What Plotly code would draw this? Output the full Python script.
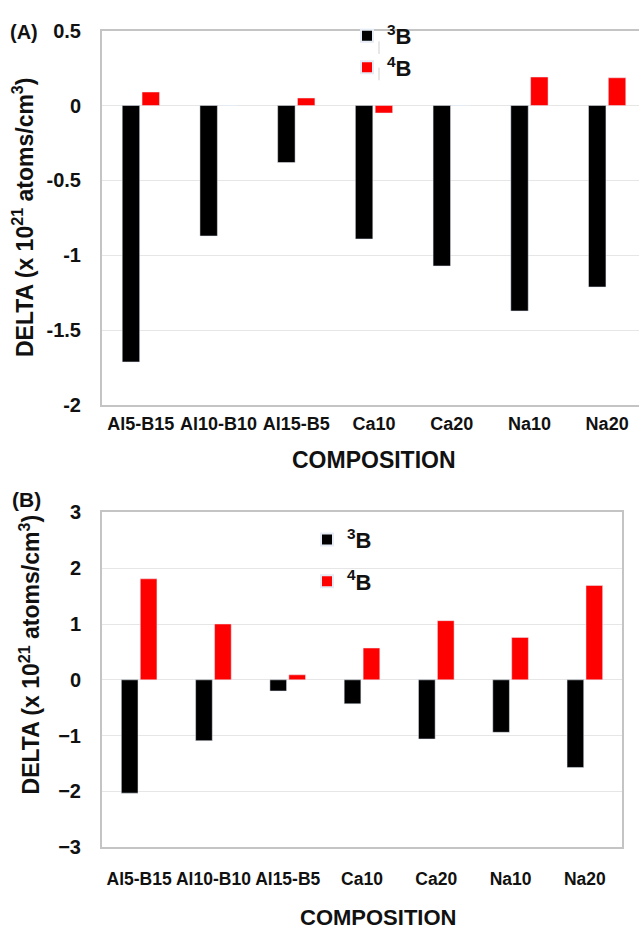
import plotly.graph_objects as go

# Compositions (x categories), shared by both panels
categories = ["Al5-B15", "Al10-B10", "Al15-B5", "Ca10", "Ca20", "Na10", "Na20"]

# Panel (A): change in 3-fold / 4-fold boron, x 10^21 atoms/cm^3
a_b3 = [-1.71, -0.87, -0.38, -0.89, -1.07, -1.37, -1.21]
a_b4 = [0.09, 0.0, 0.05, -0.05, 0.0, 0.19, 0.185]

# Panel (B)
b_b3 = [-2.03, -1.09, -0.20, -0.43, -1.06, -0.94, -1.57]
b_b4 = [1.81, 1.00, 0.09, 0.57, 1.06, 0.76, 1.69]

a_ticks = [0.5, 0, -0.5, -1, -1.5, -2]
a_ticktext = ["0.5", "0", "-0.5", "-1", "-1.5", "-2"]
b_ticks = [3, 2, 1, 0, -1, -2, -3]

W, H = 639, 932
FONT = "Liberation Sans"
INK = "#111111"
BLACK = "#000000"
RED = "#ff0000"
FRAME = "#c4c4c4"
GRID = "#e6e6e6"


def px_x(v):
    return v / W


def px_y(v):
    return 1 - v / H


def bold(size):
    return dict(family=FONT, size=size, color=INK, weight="bold")


fig = go.Figure()

fig.add_trace(go.Bar(x=categories, y=a_b3, name="<sup>3</sup>B", marker_color=BLACK,
                     xaxis="x", yaxis="y", legend="legend", legendgroup="a3"))
fig.add_trace(go.Bar(x=categories, y=a_b4, name="<sup>4</sup>B", marker_color=RED,
                     xaxis="x", yaxis="y", legend="legend", legendgroup="a4"))
fig.add_trace(go.Bar(x=categories, y=b_b3, name="<sup>3</sup>B", marker_color=BLACK,
                     xaxis="x2", yaxis="y2", legend="legend2", legendgroup="b3"))
fig.add_trace(go.Bar(x=categories, y=b_b4, name="<sup>4</sup>B", marker_color=RED,
                     xaxis="x2", yaxis="y2", legend="legend2", legendgroup="b4"))

fig.update_layout(
    width=W, height=H,
    margin=dict(l=0, r=0, t=0, b=0),
    paper_bgcolor="white", plot_bgcolor="white",
    barmode="group", bargap=0.49, bargroupgap=0.12,
    font=dict(family=FONT, color=INK),
    xaxis=dict(domain=[px_x(102), 1], range=[-0.5, 6.5 - 7 / 77.75],
               showline=True, linecolor=FRAME, linewidth=2, mirror=True,
               ticks="", tickfont=bold(18), tickangle=0, ticklabelstandoff=1,
               showgrid=False, zeroline=False, anchor="y"),
    yaxis=dict(domain=[px_y(404), px_y(20)], range=[-2, 0.5],
               tickvals=a_ticks, ticktext=a_ticktext,
               showline=True, linecolor=FRAME, linewidth=2, mirror=False,
               showgrid=True, gridcolor=GRID, gridwidth=1,
               zeroline=True, zerolinecolor=GRID, zerolinewidth=1,
               ticks="", tickfont=bold(20), ticklabelstandoff=15, anchor="x"),
    xaxis2=dict(domain=[px_x(102), px_x(622)], range=[-0.5, 6.5],
                showline=True, linecolor=FRAME, linewidth=2, mirror=True,
                ticks="", tickfont=bold(17.5), tickangle=0, ticklabelstandoff=15,
                showgrid=False, zeroline=False, anchor="y2"),
    yaxis2=dict(domain=[px_y(856.5), px_y(513.5)], range=[-3, 3],
                tickvals=b_ticks,
                showline=True, linecolor=FRAME, linewidth=2, mirror=True,
                showgrid=True, gridcolor=GRID, gridwidth=1,
                zeroline=True, zerolinecolor=GRID, zerolinewidth=1,
                ticks="", tickfont=bold(20), ticklabelstandoff=15, anchor="x2"),
    legend=dict(x=px_x(347), y=px_y(4), xanchor="left", yanchor="top",
                bgcolor="rgba(0,0,0,0)", font=bold(22),
                traceorder="grouped", tracegroupgap=0, itemsizing="constant"),
    legend2=dict(x=px_x(307), y=px_y(520), xanchor="left", yanchor="top",
                 bgcolor="rgba(0,0,0,0)", font=bold(22),
                 traceorder="grouped", tracegroupgap=10, itemsizing="constant"),
)

ylab = "DELTA (x 10<sup>21</sup> atoms/cm<sup>3</sup>)"
annotations = [
    dict(text="(A)", x=px_x(24), y=px_y(21), font=bold(20)),
    dict(text="(B)", x=px_x(26), y=px_y(500), font=bold(21)),
    dict(text=ylab, x=px_x(23), y=px_y(211), textangle=-90, font=bold(23)),
    dict(text=ylab, x=px_x(30), y=px_y(659), textangle=-90, font=bold(23)),
    dict(text="COMPOSITION", x=px_x(374), y=px_y(460), font=bold(23)),
    dict(text="COMPOSITION", x=px_x(378), y=px_y(928), font=bold(22)),
]
for a in annotations:
    a.update(xref="paper", yref="paper", showarrow=False, xanchor="center", yanchor="middle")
fig.update_layout(annotations=annotations)

# thin grey separators between the legend keys and their labels in panel (A)
for y0, y1 in [(31, 44), (58, 71)]:
    fig.add_shape(type="line", xref="paper", yref="paper",
                  x0=px_x(379), x1=px_x(379), y0=px_y(y0), y1=px_y(y1),
                  line=dict(color="#cfcfcf", width=1))

fig.write_html("out.html")
